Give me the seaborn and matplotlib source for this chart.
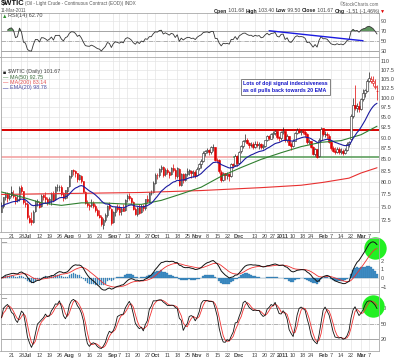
import matplotlib
matplotlib.use("Agg")
import matplotlib.pyplot as plt
import numpy as np
import pandas as pd
import seaborn as sns
from matplotlib.ticker import FixedLocator, FixedFormatter, NullLocator

sns.set_theme(style="white")
plt.rcParams["font.family"] = ["Liberation Sans", "DejaVu Sans"]

W, H = 400, 360

# ---- data --------------------------------------------------------------------
holidays = ["2010-07-05", "2010-09-06", "2010-11-25", "2010-12-24", "2011-01-17", "2011-02-21"]
dates = pd.bdate_range("2010-06-14", "2011-03-11", freq="C", holidays=holidays)

open_px = [
    74.0, 75.2, 76.9, 77.5, 76.8, 77.9, 77.3, 77.0, 76.4, 76.5,
    79.1, 78.2, 75.7, 75.5, 72.9, 72.4, 72.0, 74.2, 76.0, 75.9,
    75.1, 77.3, 77.0, 76.6, 76.1, 76.4, 77.6, 76.5, 79.0, 79.1,
    79.0, 77.6, 76.7, 78.3, 79.2, 81.3, 82.6, 82.4, 81.9, 80.8,
    81.4, 80.2, 78.0, 75.8, 75.4, 75.3, 75.8, 75.2, 74.4, 73.5,
    73.0, 71.6, 72.5, 73.4, 75.3, 74.6, 72.0, 73.9, 75.0, 74.8,
    74.1, 74.7, 74.3, 76.7, 77.2, 76.8, 76.0, 74.6, 73.7, 74.9,
    73.9, 75.2, 74.7, 76.6, 76.2, 77.8, 77.9, 79.9, 81.6, 81.5,
    82.8, 83.2, 81.7, 82.7, 82.2, 81.7, 83.0, 82.7, 81.3, 82.9,
    79.5, 81.8, 80.6, 81.8, 82.5, 82.5, 82.0, 82.2, 81.5, 83.0,
    83.9, 84.7, 86.5, 86.9, 87.1, 86.7, 87.8, 87.7, 84.9, 84.8,
    82.3, 80.5, 81.9, 81.5, 81.7, 81.3, 83.9, 83.8, 85.7, 84.2,
    86.8, 88.0, 89.3, 89.4, 88.7, 88.3, 88.4, 87.8, 88.6, 88.3,
    88.6, 87.7, 88.1, 89.4, 90.5, 89.8, 90.9, 91.0, 91.5, 90.1,
    89.9, 91.4, 91.5, 89.4, 90.3, 88.4, 88.0, 89.3, 91.1, 91.9,
    91.4, 91.5, 91.4, 90.9, 88.9, 89.1, 87.9, 86.2, 87.3, 85.7,
    89.4, 92.2, 90.8, 90.9, 90.5, 89.0, 87.5, 86.9, 86.7, 87.3,
    86.7, 87.0, 86.5, 87.2, 88.6, 89.6, 95.4, 98.1, 97.3, 97.9,
    97.0, 99.7, 101.2, 101.9, 104.5, 104.6, 103.9, 102.9, 101.68,
]
high_px = [
    75.9, 77.0, 78.0, 77.9, 77.8, 79.2, 78.4, 77.4, 77.3, 79.2,
    79.4, 78.3, 76.4, 75.9, 73.5, 73.9, 74.4, 76.3, 76.6, 76.2,
    77.5, 77.6, 77.9, 77.0, 76.9, 77.9, 78.2, 79.2, 79.6, 79.4,
    79.4, 77.9, 78.5, 79.0, 81.5, 82.7, 82.9, 82.6, 82.0, 81.7,
    81.5, 80.3, 78.3, 76.3, 75.8, 76.6, 76.2, 75.5, 74.8, 74.3,
    73.4, 72.9, 73.8, 75.3, 75.9, 74.8, 74.2, 75.0, 75.6, 75.3,
    74.9, 75.6, 76.6, 77.5, 77.8, 77.0, 76.2, 74.9, 75.2, 75.6,
    75.5, 75.6, 76.6, 77.3, 78.0, 78.4, 80.3, 81.9, 82.1, 83.0,
    83.7, 83.5, 83.0, 83.0, 82.5, 83.4, 84.0, 83.0, 83.2, 83.0,
    81.9, 82.1, 81.9, 83.0, 82.9, 82.7, 82.6, 82.6, 83.2, 84.2,
    85.0, 87.0, 87.2, 87.6, 87.4, 88.1, 88.6, 87.9, 85.4, 85.0,
    82.6, 82.2, 82.0, 82.3, 81.9, 84.1, 84.2, 86.1, 86.0, 87.0,
    88.3, 89.5, 90.8, 90.0, 89.0, 89.0, 88.9, 89.2, 89.1, 88.9,
    88.8, 88.4, 89.5, 90.6, 90.7, 91.0, 91.6, 91.9, 91.7, 90.5,
    91.6, 92.6, 91.7, 90.8, 90.5, 88.9, 89.7, 91.4, 92.2, 92.4,
    91.9, 92.0, 91.8, 91.0, 89.7, 89.3, 88.1, 87.6, 87.4, 89.9,
    92.6, 92.4, 91.6, 91.3, 90.8, 89.4, 88.0, 87.7, 87.8, 87.9,
    87.6, 87.3, 87.5, 88.9, 89.3, 95.8, 100.0, 103.4, 98.5, 99.0,
    100.0, 102.2, 102.3, 104.9, 107.0, 106.0, 106.0, 104.9, 103.40,
]
low_px = [
    73.9, 74.8, 76.3, 76.0, 76.3, 77.0, 76.8, 75.6, 75.9, 76.2,
    77.8, 75.6, 74.9, 72.7, 71.9, 71.6, 71.9, 74.0, 75.1, 74.7,
    74.9, 76.3, 75.7, 75.4, 75.6, 75.3, 76.1, 76.4, 78.2, 78.3,
    77.2, 76.2, 76.5, 76.8, 79.0, 80.9, 81.6, 81.2, 80.1, 80.4,
    79.9, 77.9, 75.6, 75.0, 74.3, 75.0, 74.8, 74.0, 73.3, 72.9,
    71.4, 70.8, 72.1, 73.1, 74.4, 71.6, 71.8, 73.3, 74.2, 73.4,
    73.5, 74.1, 74.2, 76.0, 76.4, 75.5, 74.3, 73.5, 73.3, 73.6,
    73.8, 74.1, 74.4, 75.8, 75.8, 77.3, 77.7, 79.7, 80.8, 81.2,
    82.3, 81.2, 81.3, 81.8, 80.9, 81.6, 82.3, 80.8, 81.0, 79.2,
    79.3, 79.9, 80.3, 81.4, 81.6, 81.0, 81.1, 80.9, 81.3, 82.6,
    83.1, 84.5, 85.8, 86.4, 85.9, 86.2, 87.0, 84.7, 84.1, 81.9,
    80.1, 80.3, 80.6, 80.8, 80.2, 81.1, 83.0, 83.5, 83.6, 84.0,
    86.4, 87.6, 89.0, 88.4, 87.6, 87.8, 87.4, 87.6, 87.9, 87.4,
    87.3, 87.4, 87.8, 89.1, 89.4, 89.6, 89.9, 90.6, 89.8, 89.3,
    89.5, 90.8, 89.0, 88.9, 88.2, 87.1, 87.9, 89.1, 90.9, 91.0,
    90.6, 90.9, 90.2, 88.6, 88.4, 87.6, 85.9, 85.8, 85.3, 85.5,
    89.2, 90.3, 90.2, 89.6, 88.7, 87.2, 86.6, 86.3, 86.4, 86.2,
    86.3, 86.0, 86.3, 87.0, 87.9, 89.4, 94.9, 96.8, 96.3, 96.2,
    96.7, 99.2, 100.2, 101.6, 104.2, 103.8, 103.0, 102.4, 99.50,
]
close_px = [
    75.12, 76.94, 77.67, 76.79, 77.18, 77.31, 77.12, 76.35, 76.51, 78.86,
    78.26, 75.94, 75.63, 72.95, 72.14, 71.98, 74.07, 76.09, 76.09, 75.00,
    77.11, 77.04, 76.62, 75.95, 76.54, 77.58, 76.35, 78.98, 78.98, 79.00,
    77.50, 76.69, 78.36, 78.95, 81.34, 82.55, 82.49, 81.95, 80.70, 81.48,
    80.25, 78.02, 75.74, 75.39, 75.24, 75.77, 75.22, 74.43, 73.46, 73.10,
    71.63, 72.52, 73.36, 75.17, 74.70, 71.92, 73.91, 74.91, 74.60, 74.09,
    74.67, 74.25, 76.45, 77.19, 76.80, 76.02, 74.57, 73.66, 74.86, 73.86,
    75.18, 74.71, 76.49, 76.18, 77.86, 77.86, 79.97, 81.58, 81.47, 82.82,
    83.23, 81.67, 82.66, 82.21, 81.67, 83.01, 82.69, 81.25, 83.08, 79.49,
    81.77, 80.56, 81.69, 82.52, 82.55, 81.94, 82.18, 81.43, 82.95, 83.90,
    84.69, 86.49, 86.85, 87.06, 86.72, 87.81, 87.81, 84.88, 84.86, 82.34,
    80.44, 81.85, 81.51, 81.74, 81.25, 83.86, 83.76, 85.73, 84.11, 86.75,
    88.00, 89.19, 89.38, 88.69, 88.28, 88.37, 87.79, 88.61, 88.28, 88.62,
    87.70, 88.02, 89.37, 90.48, 89.82, 90.83, 91.00, 91.49, 90.12, 89.84,
    91.38, 91.55, 89.38, 90.30, 88.38, 88.03, 89.25, 91.11, 91.86, 91.40,
    91.54, 91.38, 90.86, 88.86, 89.11, 87.87, 86.19, 87.33, 85.64, 89.34,
    92.19, 90.77, 90.86, 90.54, 89.03, 87.48, 86.94, 86.71, 87.30, 86.70,
    87.00, 86.50, 87.20, 88.60, 89.00, 95.40, 98.10, 97.28, 97.88, 96.97,
    99.63, 101.23, 101.91, 104.42, 105.44, 105.02, 104.38, 103.18, 101.67,
]

# long moving averages, sampled off the chart
ma50_dates = ["2010-06-14", "2010-06-28", "2010-07-13", "2010-07-27", "2010-08-10",
              "2010-08-24", "2010-09-08", "2010-09-22", "2010-10-06", "2010-10-20",
              "2010-11-03", "2010-11-17", "2010-12-02", "2010-12-16", "2010-12-31",
              "2011-01-14", "2011-01-31", "2011-02-14", "2011-03-01", "2011-03-11"]
ma50_vals = [78.0, 77.0, 75.8, 75.3, 75.8, 75.8, 75.6, 75.5, 76.3, 77.6,
             79.0, 81.3, 83.2, 85.0, 86.5, 87.9, 88.9, 89.3, 90.7, 92.75]
ma200_dates = ["2010-06-14", "2010-08-02", "2010-09-22", "2010-11-03", "2010-12-16",
               "2011-01-14", "2011-02-01", "2011-02-18", "2011-03-01", "2011-03-11"]
ma200_vals = [77.5, 77.7, 77.9, 78.3, 78.9, 79.4, 80.0, 80.9, 82.0, 83.14]

# hand-drawn annotations on the chart
resistance = 91.8
support = 85.6
support_switch = "2010-11-26"
rsi_trend_dates = ["2010-12-22", "2011-03-02"]
rsi_trend_vals = [70.5, 50.5]
macd_circle = ("2011-03-10", 3.5)
sto_circle = ("2011-03-09", 83.0)

tick_dates = ["2010-06-21", "2010-06-28", "2010-07-01", "2010-07-12", "2010-07-19", "2010-07-26",
              "2010-08-02", "2010-08-09", "2010-08-16", "2010-08-23", "2010-09-01", "2010-09-07",
              "2010-09-13", "2010-09-20", "2010-09-27", "2010-10-01", "2010-10-11", "2010-10-18",
              "2010-10-25", "2010-11-01", "2010-11-08", "2010-11-15", "2010-11-22", "2010-12-01",
              "2010-12-13", "2010-12-20", "2010-12-27", "2011-01-03", "2011-01-10", "2011-01-18",
              "2011-01-24", "2011-02-01", "2011-02-07", "2011-02-14", "2011-02-22", "2011-03-01",
              "2011-03-07"]
tick_labels = ["21", "28", "Jul", "12", "19", "26", "Aug", "9", "16", "23", "Sep", "7", "13", "20",
               "27", "Oct", "11", "18", "25", "Nov", "8", "15", "22", "Dec", "13", "20", "27",
               "2011", "10", "18", "24", "Feb", "7", "14", "22", "Mar", "7"]
month_labels = {"Jul", "Aug", "Sep", "Oct", "Nov", "Dec", "2011", "Feb", "Mar"}

price_ticks = [110, 107.5, 105, 102.5, 100, 97.5, 95, 92.5, 90, 87.5, 85, 82.5, 80, 77.5, 75, 72.5]
price_labels = ["110", "107.5", "105.0", "102.5", "100.0", "97.5", "95.0", "92.5", "90.0",
                "87.5", "85.0", "82.5", "80.0", "77.5", "75.0", "72.5"]

# ---- indicators (same definitions the chart uses) ----------------------------
pos = {d.strftime("%Y-%m-%d"): i for i, d in enumerate(dates)}
day = np.arange(len(dates))
o, hi, lo, c = (pd.Series(v, dtype=float) for v in (open_px, high_px, low_px, close_px))

ema20 = c.ewm(span=20, adjust=False).mean()
delta = c.diff()
gain = delta.clip(lower=0).ewm(alpha=1 / 14).mean()
loss = (-delta.clip(upper=0)).ewm(alpha=1 / 14).mean()
rsi = 100 - 100 / (1 + gain / loss)
rsi[:3] = np.nan
macd = c.ewm(span=12, adjust=False).mean() - c.ewm(span=26, adjust=False).mean()
signal = macd.ewm(span=9, adjust=False).mean()
hist = macd - signal
ll = lo.rolling(14, min_periods=1).min()
hh = hi.rolling(14, min_periods=1).max()
pct_k = (100 * (c - ll) / (hh - ll)).rolling(3, min_periods=1).mean()
pct_d = pct_k.rolling(3, min_periods=1).mean()

# ---- figure ------------------------------------------------------------------
fig = plt.figure(figsize=(W / 100, H / 100), dpi=100)
fig.patch.set_facecolor("white")


def panel(top, bottom):
    return fig.add_axes([0.5 / W, 1 - bottom / H, 378.5 / W, (bottom - top) / H])


ax_rsi = panel(13, 57)
ax_px = panel(57, 232)
ax_macd = panel(238, 294)
ax_sto = panel(294, 351)
tick_pos = [pos[d] for d in tick_dates]

for ax in (ax_rsi, ax_px, ax_macd, ax_sto):
    ax.set_facecolor("white")
    for s in ax.spines.values():
        s.set_color("#a8a8a8")
        s.set_linewidth(0.6)
    ax.xaxis.set_major_locator(FixedLocator(tick_pos))
    ax.grid(True, axis="both", color="#e4e4e4", linewidth=0.5)
    ax.set_axisbelow(True)
    ax.yaxis.tick_right()
    ax.tick_params(axis="both", length=0, labelsize=4, labelcolor="#444", pad=1.5)

# RSI
sns.lineplot(x=day, y=rsi, ax=ax_rsi, color="#333333", linewidth=0.6, zorder=3)
ax_rsi.fill_between(day, 70, rsi, where=rsi > 70, interpolate=True, color="#5f955f", lw=0, zorder=2)
for lvl in (70, 30):
    ax_rsi.axhline(lvl, color="#9a9a9a", lw=0.6, zorder=1)
ax_rsi.axhline(50, color="#9a9a9a", lw=0.5, ls="-.", zorder=1)
sns.lineplot(x=[pos[d] for d in rsi_trend_dates], y=rsi_trend_vals, ax=ax_rsi,
             color="#1a1ae0", linewidth=1.0, zorder=4)
ax_rsi.set_ylim(18, 106)
ax_rsi.yaxis.set_major_locator(FixedLocator([90, 70, 50, 30]))

# Price candles
prev = c.shift(1).fillna(o)
col = np.where(c >= prev, "#222222", "#e00000")
face = np.where(c > o, "white", col)
ax_px.set_yscale("log")
ax_px.vlines(day, lo, hi, colors=col, linewidth=0.5, zorder=3)
ax_px.bar(day, np.maximum((c - o).abs(), 0.08), bottom=np.minimum(o, c), width=0.75,
          color=face, edgecolor=col, linewidth=0.4, zorder=4)
ax_px.axhline(resistance, color="#d80000", lw=1.4, zorder=2)
ax_px.hlines(support, -0.5, pos[support_switch], color="#f3a3a3", lw=1.2, zorder=2)
ax_px.hlines(support, pos[support_switch], len(day), color="#5f9f5f", lw=1.2, zorder=2)
sns.lineplot(x=[pos[d] for d in ma200_dates], y=ma200_vals, ax=ax_px, color="#e83030", linewidth=0.8, zorder=5)
sns.lineplot(x=[pos[d] for d in ma50_dates], y=ma50_vals, ax=ax_px, color="#2f7f2f", linewidth=0.8, zorder=5)
sns.lineplot(x=day, y=ema20, ax=ax_px, color="#1a1aa0", linewidth=0.8, zorder=5)
ax_px.set_ylim(70.2, 111.3)
ax_px.yaxis.set_major_locator(FixedLocator(price_ticks))
ax_px.yaxis.set_major_formatter(FixedFormatter(price_labels))
ax_px.yaxis.set_minor_locator(NullLocator())

# MACD
ax_macd.bar(day, hist, width=0.85, color="#3f8fc8", edgecolor="#2b6e9e", linewidth=0.2, zorder=2)
sns.scatterplot(x=[pos[macd_circle[0]]], y=[macd_circle[1]], ax=ax_macd, s=260,
                color="#22f022", linewidth=0, zorder=2.5, clip_on=False)
sns.lineplot(x=day, y=signal, ax=ax_macd, color="#f03030", linewidth=0.6, zorder=3)
sns.lineplot(x=day, y=macd, ax=ax_macd, color="#111111", linewidth=0.7, zorder=4)
ax_macd.set_ylim(-1.84, 4.6)
ax_macd.yaxis.set_major_locator(FixedLocator([4, 3, 2, 1, 0, -1]))

# Full stochastics
for lvl in (80, 20):
    ax_sto.axhline(lvl, color="#9a9a9a", lw=0.6, zorder=1)
ax_sto.axhline(50, color="#9a9a9a", lw=0.5, ls="-.", zorder=1)
sns.scatterplot(x=[pos[sto_circle[0]]], y=[sto_circle[1]], ax=ax_sto, s=260,
                color="#22f022", linewidth=0, zorder=2, clip_on=False)
sns.lineplot(x=day, y=pct_d, ax=ax_sto, color="#f03030", linewidth=0.6, zorder=3)
sns.lineplot(x=day, y=pct_k, ax=ax_sto, color="#111111", linewidth=0.6, zorder=4)
ax_sto.set_ylim(-3, 107)
ax_sto.yaxis.set_major_locator(FixedLocator([80, 50, 20]))

for ax in (ax_rsi, ax_px, ax_macd, ax_sto):
    ax.set_xlim(-0.5, len(day))
    ax.set_xlabel("")
    ax.set_ylabel("")
    ax.set_xticks(tick_pos)
    ax.set_xticklabels(tick_labels)
    for t in ax.get_xticklabels():
        if t.get_text() in month_labels:
            t.set_fontweight("bold")
for ax in (ax_rsi, ax_macd):
    ax.tick_params(labelbottom=False)


# ---- texts -------------------------------------------------------------------
def text_row(x, y, pieces, size, host=ax_px):
    t = fig.text(x / W, 1 - y / H, pieces[0][0], color=pieces[0][1], fontsize=size,
                 va="center", fontweight=pieces[0][2] if len(pieces[0]) > 2 else "normal")
    for p in pieces[1:]:
        t = host.annotate(p[0], xy=(1, 0), xycoords=t, va="bottom", color=p[1], fontsize=size,
                          fontweight=p[2] if len(p) > 2 else "normal")
    return t


fig.text(1 / W, 1 - 4 / H, r"\$WTIC", fontsize=5.5, fontweight="bold", va="center", color="#111")
fig.text(25 / W, 1 - 4 / H, "(Oil - Light Crude - Continuous Contract (EOD)) INDX",
         fontsize=3.3, va="center", color="#555")
fig.text(1 / W, 1 - 10.5 / H, "11-Mar-2011", fontsize=3.3, va="center", color="#555")
fig.text(379 / W, 1 - 4 / H, "\u00a9StockCharts.com", fontsize=3.3, ha="right", va="center", color="#666")
text_row(214, 11, [("Open", "#222", "bold"), (" 101.68 ", "#444"), ("High", "#222", "bold"),
                   (" 103.40 ", "#444"), ("Low", "#222", "bold"), (" 99.50 ", "#444"),
                   ("Close", "#222", "bold"), (" 101.67 ", "#444"), ("Chg", "#222", "bold"),
                   (" -1.51 (-1.46%) ", "#444"), ("\u25bc", "#e00000")], 3.7)

text_row(2, 16, [("\u25b2", "#2f8f2f"), ("RSI(14) 62.70", "#444")], 4.0)
text_row(3, 72, [("\u25a0 ", "#222"), (r"\$WTIC (Daily) 101.67", "#444")], 3.9)
text_row(3, 77.5, [("\u2014 ", "#2f7f2f"), ("MA(50) 92.75", "#3a6a3a")], 3.9)
text_row(3, 82.7, [("\u2014 ", "#e83030"), ("MA(200) 83.14", "#e05050")], 3.9)
text_row(3, 88, [("\u2014 ", "#1a1aa0"), ("EMA(20) 98.78", "#4a4aa0")], 3.9)
text_row(2, 242, [("\u2014 ", "#111"), ("MACD(12,26,9) 3.787, ", "#444"), ("3.353, ", "#e03030"),
                  ("0.434", "#3f8fc8")], 3.7)
text_row(2, 298, [("\u2014 ", "#111"), ("Full STO %K(14,3) %D(3) 78.17, ", "#444"),
                  ("84.00", "#e03030")], 3.7)

fig.text(243 / W, 1 - 87 / H, "Lots of doji signal indecisiveness\nas oil pulls back towards 20 EMA",
         fontsize=3.8, fontweight="bold", color="#1515c8", va="center", ha="left", linespacing=1.4,
         bbox=dict(boxstyle="square,pad=0.45", fc="white", ec="#808080", lw=0.7))

fig.savefig("out.png", dpi=100)
